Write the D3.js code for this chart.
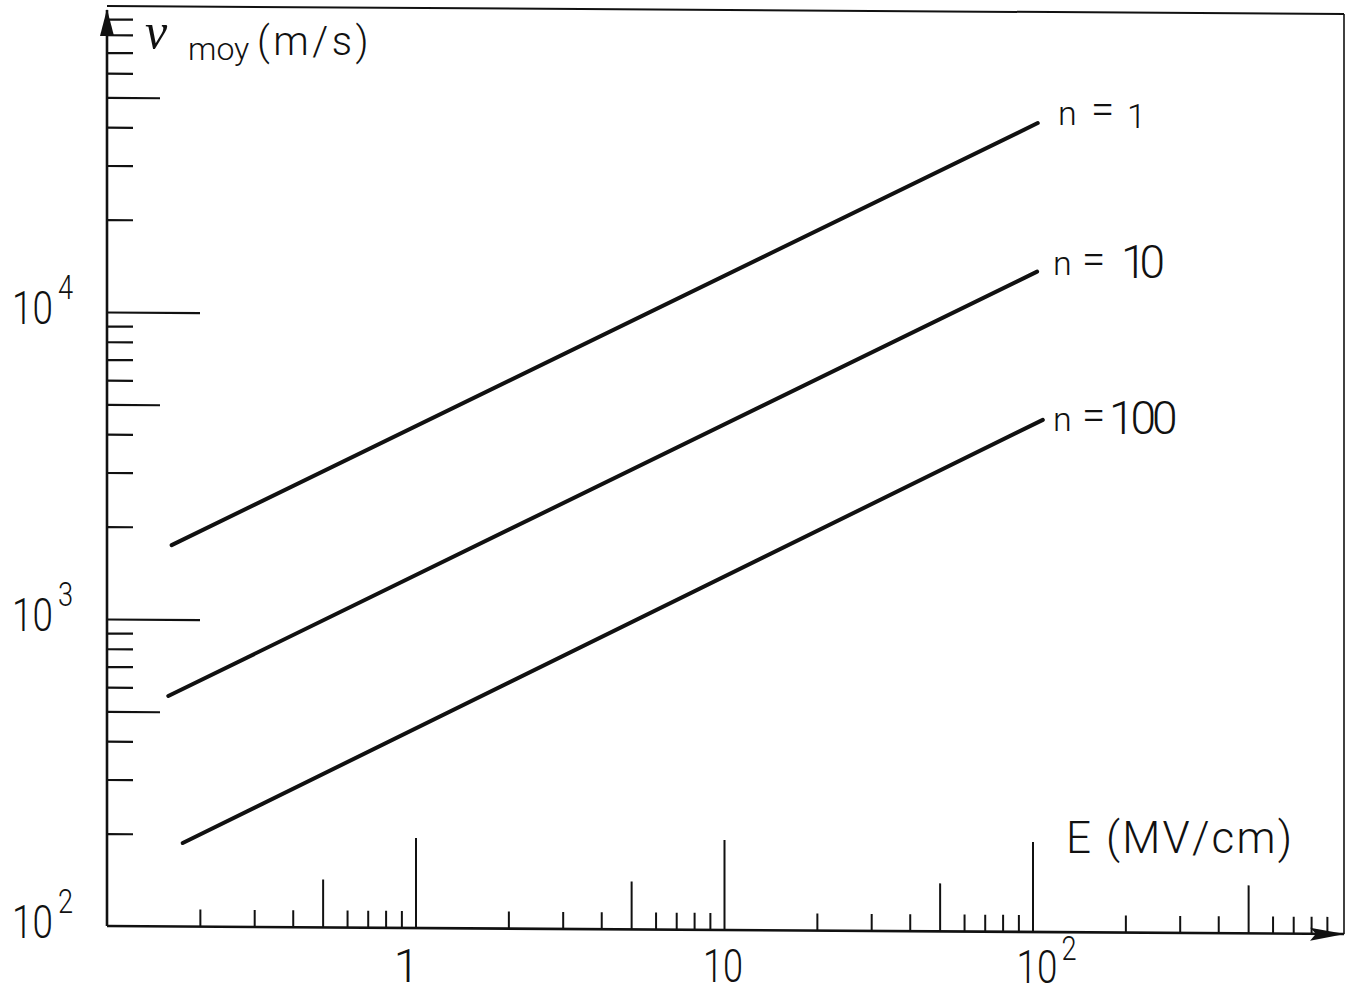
<!DOCTYPE html>
<html><head><meta charset="utf-8">
<script src="https://cdn.jsdelivr.net/npm/d3@7"></script>
<style>body{margin:0;background:#fff;} svg{display:block}</style>
</head><body>
<script>
// ---- data ----
const seriesNames = ["1", "10", "100"];           // n values
const seriesE = [[0.162, 104], [0.158, 103.5], [0.176, 108]];   // E (MV/cm) at both ends
const seriesV = [[1746, 43150], [563, 14160], [187, 4660]];     // v_moy (m/s) at both ends
const xTickLabels = [1, 10, 100];
const yTickLabels = [100, 1000, 10000];
const xTitle = "E (MV/cm)";
const yTitleMain = "v", yTitleSub = "moy", yTitleUnit = "(m/s)";

const W = 1352, H = 996;
const FONT = "Roboto, 'DejaVu Sans', sans-serif";
const SERIF = "'Liberation Serif', 'DejaVu Serif', serif";
const INK = "#111";

const svg = d3.select("body").append("svg").attr("width", W).attr("height", H)
  .style("background", "#fff");

const x = d3.scaleLog().domain([0.1, 1000]).range([107, 1341]);
const y = d3.scaleLog().domain([100, 1e5]).range([926, 5]);
const X0 = x.range()[0], Y0 = y.range()[0];

// slight skew of the scanned drawing
const g = svg.append("g")
  .attr("transform", `translate(${X0},${Y0}) skewY(0.37) translate(${-X0},${-Y0})`);

const mant = v => Math.round(v / Math.pow(10, Math.floor(Math.log10(v) + 1e-9)));

// x ticks (pointing up from the axis)
const xt = x.ticks().filter(v => v > 0.1 && v < 1000);
const xGroups = [
  {vals: xt.filter(v => mant(v) === 1), size: 90},
  {vals: xt.filter(v => mant(v) === 5), size: 48},
  {vals: xt.filter(v => mant(v) !== 1 && mant(v) !== 5), size: 17}
];
xGroups.forEach(gr => {
  const ax = g.append("g").attr("transform", `translate(0,${Y0})`)
    .call(d3.axisTop(x).tickValues(gr.vals).tickSize(gr.size).tickFormat(""));
  ax.select(".domain").remove();
  ax.selectAll("line").attr("stroke", INK).attr("stroke-width", 2);
});

// y ticks (pointing right from the axis)
const yt = y.ticks().filter(v => v > 100 && v < 1e5);
const yGroups = [
  {vals: yt.filter(v => mant(v) === 1), size: 93},
  {vals: yt.filter(v => mant(v) === 5), size: 53},
  {vals: yt.filter(v => mant(v) !== 1 && mant(v) !== 5), size: 26}
];
yGroups.forEach(gr => {
  const ax = g.append("g").attr("transform", `translate(${X0},0)`)
    .call(d3.axisRight(y).tickValues(gr.vals).tickSize(gr.size).tickFormat(""));
  ax.select(".domain").remove();
  ax.selectAll("line").attr("stroke", INK).attr("stroke-width", 2.2);
});

// axes, frame
const xEnd = 1344, yTop = y.range()[1] + 1;
g.append("line").attr("x1", X0).attr("x2", xEnd).attr("y1", Y0).attr("y2", Y0)
  .attr("stroke", INK).attr("stroke-width", 2.6);
g.append("line").attr("x1", X0).attr("x2", X0).attr("y1", Y0).attr("y2", yTop + 4)
  .attr("stroke", INK).attr("stroke-width", 2.6);
g.append("line").attr("x1", X0).attr("x2", xEnd).attr("y1", yTop).attr("y2", yTop)
  .attr("stroke", INK).attr("stroke-width", 2);
g.append("line").attr("x1", xEnd).attr("x2", xEnd).attr("y1", yTop).attr("y2", Y0)
  .attr("stroke", INK).attr("stroke-width", 1.6);
// arrows
g.append("path").attr("d", `M${xEnd + 1},${Y0} L${xEnd - 34},${Y0 - 6} L${xEnd - 28},${Y0} L${xEnd - 34},${Y0 + 7} Z`)
  .attr("fill", INK);
g.append("path").attr("d", `M${X0},${yTop + 3} L${X0 - 7},${yTop + 30} L${X0 + 7},${yTop + 30} Z`)
  .attr("fill", INK);

// series lines
const line = d3.line().x(d => x(d[0])).y(d => y(d[1]));
seriesNames.forEach((n, i) => {
  const pts = seriesE[i].map((e, j) => [e, seriesV[i][j]]);
  g.append("path").datum(pts).attr("d", line)
    .attr("fill", "none").attr("stroke", INK).attr("stroke-width", 4)
    .attr("stroke-linecap", "round");
});

// ---- text ----
function txt(xp, yp, s, size, opts = {}) {
  const t = svg.append("text").attr("x", xp).attr("y", yp).text(s)
    .attr("font-family", opts.family || FONT).attr("font-weight", opts.weight || 300)
    .attr("font-size", size).attr("fill", INK)
    .attr("text-anchor", opts.anchor || "start");
  if (opts.style) t.attr("font-style", opts.style);
  if (opts.len) t.attr("textLength", opts.len).attr("lengthAdjust", opts.adjust || "spacingAndGlyphs");
  return t;
}
const SX = 0.8; // narrow lettering
// power-of-ten label as one text: "10" + superscript
function powLabel(left, base, e, supDx, supDy) {
  const t = svg.append("text")
    .attr("transform", `translate(${left},0) scale(${SX},1)`)
    .attr("font-family", FONT).attr("font-weight", 300).attr("fill", INK);
  t.append("tspan").attr("x", 0).attr("y", base).attr("font-size", 46).text("10");
  t.append("tspan").attr("x", supDx / SX).attr("y", base + supDy).attr("font-size", 34).text(String(e));
}

// x tick labels
xTickLabels.forEach(v => {
  const e = Math.round(Math.log10(v));
  const cx = x(v);
  if (e === 0) {
    txt(cx - 9, 982, String(v), 46, {anchor: "middle"});
  } else if (e === 1) {
    txt(cx - 1, 982, String(v), 46, {anchor: "middle", len: 40});
  } else {
    powLabel(cx - 16, 983, e, 45, -23);
  }
});

// y tick labels
yTickLabels.forEach(v => {
  const e = Math.round(Math.log10(v));
  powLabel(12, y(v) + 12, e, 46, -25);
});

// y axis title as one text
const yt0 = svg.append("text").attr("fill", INK).attr("font-family", FONT).attr("font-weight", 300);
yt0.append("tspan").attr("x", 145).attr("y", 48).attr("font-family", SERIF).attr("font-weight", 400)
  .attr("font-style", "italic").attr("font-size", 50).text(yTitleMain);
yt0.append("tspan").attr("x", 188).attr("y", 60).attr("font-size", 32).text(yTitleSub);
yt0.append("tspan").attr("x", 257).attr("y", 55).attr("font-size", 40)
  .attr("letter-spacing", 3.5).text(yTitleUnit);

txt(1066, 853, xTitle, 44, {len: 226, adjust: "spacing"});

// series labels
const labelBase = [126, 276, 432];
const labelX = [1058, 1053, 1053];
seriesNames.forEach((n, i) => {
  const bx = labelX[i], by = labelBase[i];
  const t = svg.append("text").attr("fill", INK).attr("font-family", FONT).attr("font-weight", 300);
  t.append("tspan").attr("x", bx).attr("y", by - 1).attr("font-size", 34).text("n");
  t.append("tspan").attr("x", bx + (i === 0 ? 33 : 29)).attr("y", by - 2).attr("font-size", 42).text("=");
  if (i === 0) t.append("tspan").attr("x", 1127).attr("y", by + 2).attr("font-size", 34).text(n);
  else t.append("tspan").attr("x", i === 1 ? 1121 : 1109).attr("y", by + 2).attr("font-size", 46)
    .attr("letter-spacing", i === 1 ? -7 : -4).text(n);
});
</script>
</body></html>
